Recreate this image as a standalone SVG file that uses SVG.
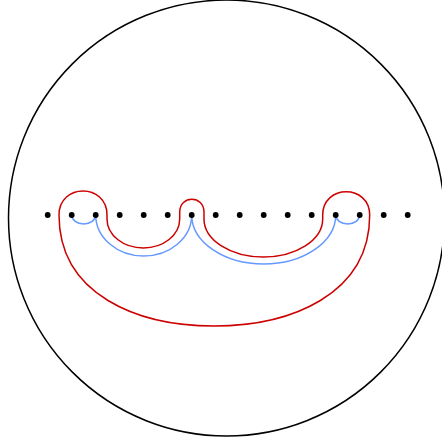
<svg xmlns="http://www.w3.org/2000/svg" width="442" height="442" viewBox="0 0 442 442">
<style>
.dot{fill:#000}
.red{fill:none;stroke:#cc0000;stroke-width:1.5}
.blue{fill:none;stroke:#6699ff;stroke-width:1.5}
.bound{fill:none;stroke:#000;stroke-width:1.5}
</style>
<rect width="442" height="442" fill="#fff"/>
<circle class="bound" cx="226.5" cy="218" r="218"/>
<g id="connectors">
<path class="blue" d="M71.7,215 A12,9 0 0 0 95.7,215"/>
<path class="blue" d="M95.7,215 A48,41 0 0 0 191.7,215"/>
<path class="blue" d="M191.7,215 A72,49 0 0 0 335.7,215"/>
<path class="blue" d="M335.7,215 A12,9 0 0 0 359.7,215"/>
<path class="red" d="M59,215 C59,183 107,183 107,215 L107,219 A36.35,29 0 0 0 179.7,219 L179.7,212 C179.7,195 204,195 204,212 L204,219 A59.35,38 0 0 0 322.7,219 L322.7,215 C322.7,184 369.7,184 369.7,215 C369.7,295 290,326 214,326 C138,326 59,295 59,215 Z"/>
</g>
<g id="d0"><circle class="dot" cx="47.7" cy="215" r="2.9"/></g>
<g id="d1"><circle class="dot" cx="71.7" cy="215" r="2.9"/></g>
<g id="d2"><circle class="dot" cx="95.7" cy="215" r="2.9"/></g>
<g id="d3"><circle class="dot" cx="119.7" cy="215" r="2.9"/></g>
<g id="d4"><circle class="dot" cx="143.7" cy="215" r="2.9"/></g>
<g id="d5"><circle class="dot" cx="167.7" cy="215" r="2.9"/></g>
<g id="d6"><circle class="dot" cx="191.7" cy="215" r="2.9"/></g>
<g id="d7"><circle class="dot" cx="215.7" cy="215" r="2.9"/></g>
<g id="d8"><circle class="dot" cx="239.7" cy="215" r="2.9"/></g>
<g id="d9"><circle class="dot" cx="263.7" cy="215" r="2.9"/></g>
<g id="d10"><circle class="dot" cx="287.7" cy="215" r="2.9"/></g>
<g id="d11"><circle class="dot" cx="311.7" cy="215" r="2.9"/></g>
<g id="d12"><circle class="dot" cx="335.7" cy="215" r="2.9"/></g>
<g id="d13"><circle class="dot" cx="359.7" cy="215" r="2.9"/></g>
<g id="d14"><circle class="dot" cx="383.7" cy="215" r="2.9"/></g>
<g id="d15"><circle class="dot" cx="407.7" cy="215" r="2.9"/></g>
</svg>
